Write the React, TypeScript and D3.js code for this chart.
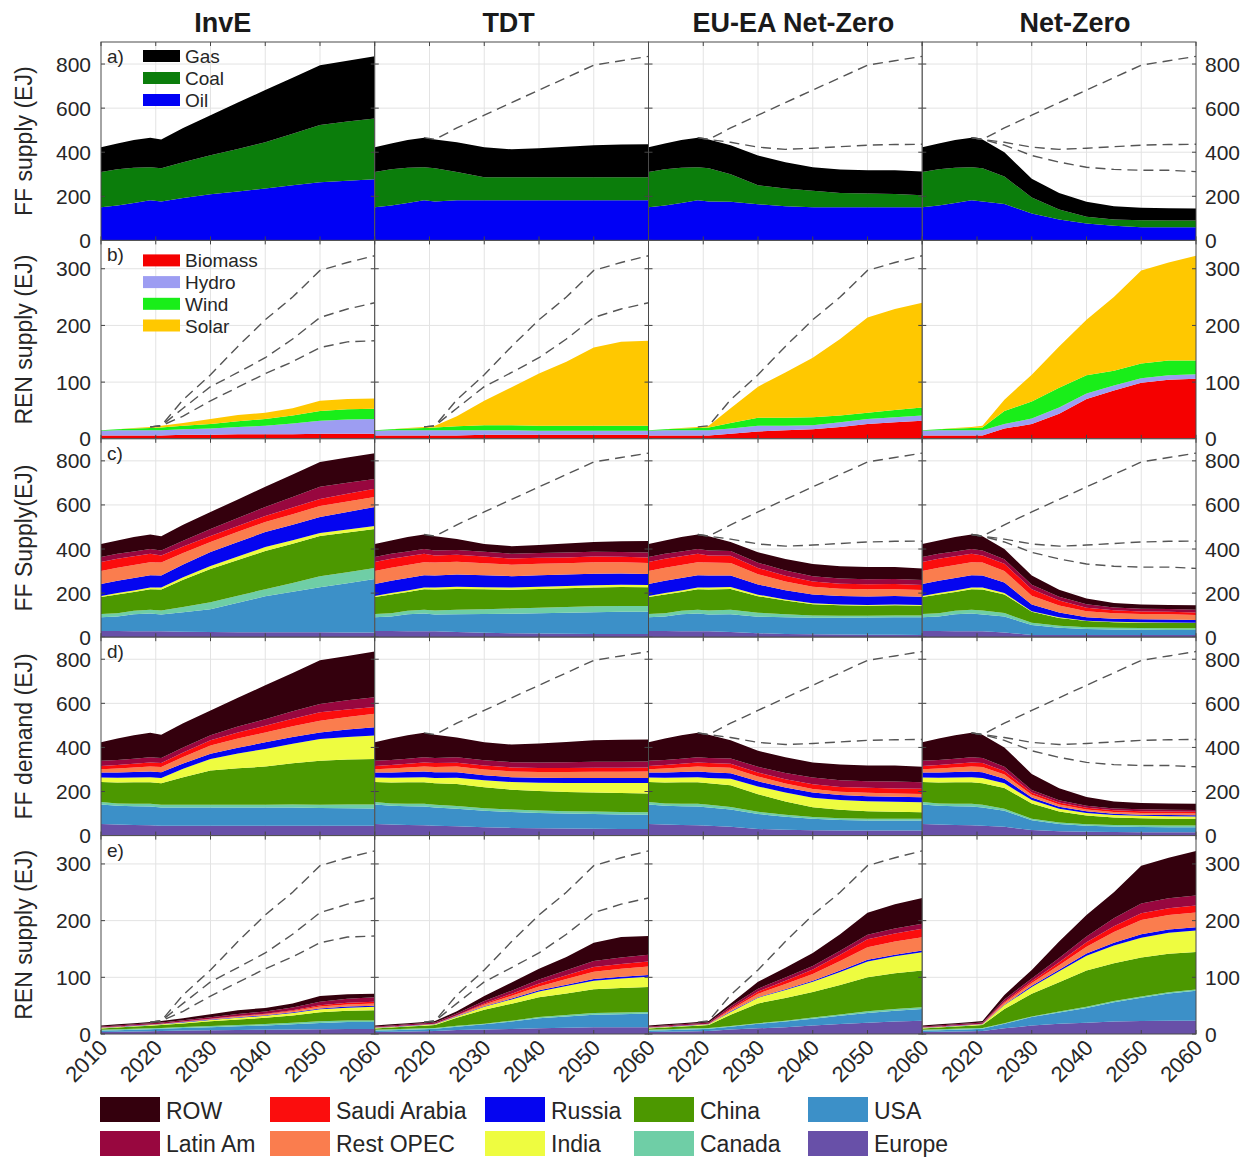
import React from "react";
import * as d3 from "d3";

// ---------------- DATA ----------------
const histYears = [2010, 2013, 2016, 2019, 2021];
const projYears = [2025, 2030, 2035, 2040, 2045, 2050, 2055, 2060];
const scenarioNames = ["InvE", "TDT", "EU-EA Net-Zero", "Net-Zero"];
const xTickYears = [2010, 2020, 2030, 2040, 2050, 2060];
const ffTicks = [0, 200, 400, 600, 800];
const renTicks = [0, 100, 200, 300];

// a) FF supply by fuel (stack bottom -> top: Oil, Coal, Gas)
const fuelNames = ["Oil", "Coal", "Gas"];
const fuelColors = ["#0000f5", "#0b7d0b", "#000000"];
const fuelHist = [[150, 158, 170, 182, 177], [160, 165, 160, 150, 150], [113, 117, 125, 134, 131]];
const fuelInvE = [[192, 209, 222, 236, 250, 264, 271, 277], [163, 177, 193, 209, 234, 259, 268, 276], [155, 182, 210, 237, 254, 272, 276, 282]];
const fuelTDT = [[182, 182, 182, 182, 182, 182, 182, 182], [128, 104, 104, 104, 104, 104, 104, 104], [135, 137, 127, 132, 139, 146, 149, 150]];
const fuelEUEA = [[175, 164, 155, 150, 150, 150, 150, 150], [125, 86, 80, 75, 65, 63, 60, 55], [132, 135, 120, 107, 107, 105, 108, 107]];
const fuelNZ = [[165, 122, 95, 77, 66, 60, 60, 60], [125, 73, 45, 30, 29, 31, 30, 30], [110, 85, 75, 68, 60, 57, 56, 55]];

// b) REN supply by source (stack bottom -> top: Biomass, Hydro, Wind, Solar)
const renNames = ["Biomass", "Hydro", "Wind", "Solar"];
const renColors = ["#f50000", "#9d9df2", "#19ee19", "#ffc800"];
const renHist = [[6, 6, 6, 6, 6], [8, 9, 9, 9, 9], [1, 2, 3, 4, 5], [0, 0, 1, 2, 3]];
const renInvE = [[7, 7, 8, 8, 8, 9, 9, 9], [10, 11, 13, 15, 19, 23, 25, 26], [6, 8, 10, 12, 14, 17, 18, 18], [5, 9, 11, 11, 13, 18, 18, 18]];
const renTDT = [[6, 7, 7, 7, 7, 7, 7, 7], [9, 8, 8, 7, 7, 7, 7, 7], [7, 9, 9, 9, 9, 9, 9, 9], [18, 43, 67, 92, 113, 138, 148, 150]];
const renEUEA = [[9, 13, 15, 17, 21, 26, 29, 32], [9, 10, 8, 7, 8, 9, 9, 9], [10, 14, 14, 14, 12, 11, 13, 14], [26, 55, 80, 105, 135, 168, 178, 185]];
const renNZ = [[18, 26, 44, 70, 85, 99, 104, 106], [8, 10, 11, 10, 9, 8, 8, 8], [23, 30, 35, 32, 26, 26, 26, 24], [20, 47, 73, 98, 130, 164, 173, 185]];

// regions (stack bottom -> top)
const regionNames = ["Europe", "USA", "Canada", "China", "India", "Russia", "Rest OPEC", "Saudi Arabia", "Latin Am", "ROW"];
const regionColors = ["#6850a8", "#3c90c8", "#6fcea6", "#4c9800", "#eefc40", "#0505f0", "#fa7d4e", "#fb0d0d", "#98073f", "#34000d"];

// c) FF supply by region
const supplyHist = [
  [28, 28, 27, 27, 27], [63, 66, 77, 80, 76], [14, 15, 16, 18, 18], [77, 85, 85, 92, 95], [5, 6, 7, 8, 9],
  [54, 56, 56, 56, 55], [59, 59, 59, 59, 59], [41, 41, 40, 38, 32], [23, 23, 22, 22, 22], [59, 60, 66, 66, 65],
];
const supplyInvE = [
  [25, 24, 23, 23, 22, 22, 21, 21], [88, 103, 133, 163, 184, 205, 224, 243], [24, 32, 32, 32, 40, 50, 50, 50],
  [124, 150, 162, 173, 178, 182, 180, 177], [11, 14, 16, 18, 16, 14, 14, 14], [58, 63, 66, 68, 70, 72, 79, 86],
  [52, 46, 46, 46, 48, 50, 48, 45], [29, 27, 27, 27, 30, 32, 35, 37], [27, 32, 36, 41, 48, 55, 50, 45],
  [72, 77, 84, 91, 102, 113, 114, 117],
];
const supplyTDT = [
  [24, 20, 18, 17, 16, 15, 15, 15], [80, 85, 88, 92, 95, 98, 100, 100], [20, 22, 24, 25, 26, 27, 27, 27],
  [95, 90, 85, 85, 85, 86, 86, 85], [10, 10, 10, 10, 10, 10, 10, 10], [55, 54, 52, 52, 52, 52, 51, 50],
  [58, 55, 52, 52, 52, 52, 51, 50], [32, 30, 28, 27, 26, 26, 25, 25], [22, 22, 22, 22, 22, 22, 22, 22],
  [49, 35, 34, 36, 41, 44, 48, 52],
];
const supplyEUEA = [
  [24, 18, 15, 13, 12, 11, 11, 10], [80, 75, 75, 75, 76, 78, 80, 80], [20, 18, 14, 10, 9, 8, 8, 8],
  [95, 75, 62, 52, 48, 46, 46, 45], [9, 7, 5, 4, 3, 3, 3, 3], [52, 46, 42, 40, 39, 39, 39, 38],
  [57, 47, 40, 35, 33, 32, 31, 30], [32, 28, 26, 24, 23, 23, 23, 23], [22, 24, 24, 24, 23, 23, 23, 23],
  [41, 47, 52, 55, 56, 55, 54, 52],
];
const supplyNZ = [
  [21, 10, 10, 10, 10, 10, 10, 10], [73, 45, 33, 27, 25, 24, 23, 23], [16, 10, 9, 8, 8, 8, 8, 8],
  [84, 50, 35, 28, 25, 24, 24, 23], [7, 3, 3, 2, 2, 2, 2, 2], [47, 30, 22, 16, 14, 13, 13, 12],
  [52, 40, 32, 27, 25, 24, 24, 23], [33, 30, 22, 16, 13, 12, 12, 11], [21, 20, 17, 15, 13, 12, 12, 12],
  [46, 42, 32, 26, 20, 19, 18, 21],
];

// d) FF demand by region
const demandHist = [
  [53, 50, 48, 47, 45], [88, 85, 85, 85, 83], [11, 11, 12, 12, 12], [91, 95, 97, 98, 98], [20, 21, 22, 23, 23],
  [23, 24, 25, 26, 26], [15, 18, 20, 23, 24], [15, 16, 17, 18, 18], [23, 23, 23, 23, 23], [84, 97, 106, 111, 106],
];
const demandInvE = [
  [45, 45, 45, 45, 45, 45, 45, 45], [83, 83, 83, 83, 82, 80, 79, 78], [12, 12, 12, 12, 14, 15, 17, 18],
  [125, 155, 165, 173, 187, 200, 204, 207], [38, 53, 67, 80, 89, 98, 102, 106], [24, 23, 27, 30, 30, 30, 34, 38],
  [30, 38, 42, 45, 49, 53, 57, 61], [20, 23, 27, 30, 34, 38, 34, 30], [23, 23, 27, 30, 34, 38, 42, 45],
  [110, 113, 130, 154, 174, 198, 201, 207],
];
const demandTDT = [
  [42, 38, 35, 33, 32, 31, 30, 30], [80, 75, 72, 70, 68, 67, 66, 65], [12, 11, 11, 11, 11, 11, 11, 11],
  [100, 95, 90, 88, 87, 86, 86, 85], [28, 32, 35, 38, 41, 44, 46, 48], [25, 23, 22, 22, 22, 22, 22, 22],
  [26, 26, 26, 27, 28, 29, 29, 30], [18, 18, 18, 18, 18, 18, 18, 18], [24, 24, 24, 25, 26, 27, 27, 27],
  [90, 81, 80, 86, 92, 97, 100, 100],
];
const demandEUEA = [
  [40, 30, 26, 24, 23, 23, 23, 23], [78, 68, 60, 52, 48, 46, 45, 45], [12, 10, 9, 8, 8, 8, 8, 8],
  [98, 80, 60, 45, 38, 34, 32, 30], [30, 35, 40, 43, 44, 45, 45, 45], [25, 23, 23, 23, 23, 23, 23, 23],
  [25, 22, 18, 16, 15, 15, 15, 15], [18, 18, 20, 22, 22, 23, 23, 23], [24, 26, 28, 30, 30, 30, 31, 30],
  [82, 73, 71, 69, 71, 71, 73, 70],
];
const demandNZ = [
  [40, 25, 20, 17, 16, 15, 15, 15], [73, 45, 33, 28, 25, 24, 23, 23], [9, 6, 6, 6, 7, 8, 8, 8],
  [94, 70, 50, 40, 34, 32, 31, 30], [21, 15, 13, 12, 11, 11, 11, 11], [21, 12, 9, 7, 6, 5, 5, 5],
  [19, 12, 10, 8, 8, 8, 8, 8], [16, 10, 9, 8, 8, 8, 8, 8], [19, 12, 10, 9, 8, 8, 8, 8],
  [88, 73, 55, 40, 32, 29, 29, 29],
];

// e) REN supply by region
const renRegHist = [
  [3.5, 4, 4.5, 5, 5.3], [2.5, 2.8, 3.1, 3.5, 3.8], [1.4, 1.4, 1.5, 1.5, 1.5], [2.5, 3.2, 4, 4.6, 5.2], [1, 1.1, 1.2, 1.3, 1.4],
  [0.5, 0.5, 0.5, 0.5, 0.5], [0.3, 0.3, 0.4, 0.4, 0.4], [0.1, 0.1, 0.1, 0.1, 0.1], [1.6, 1.7, 1.8, 1.9, 2], [1.6, 1.9, 1.9, 2.2, 2.8],
];
const renRegInvE = [
  [6, 6.5, 7, 7.5, 8, 8.5, 9, 9], [4.5, 5.5, 6.5, 7.5, 9, 11, 12, 12], [1.7, 2, 2.2, 2.5, 2.7, 3, 3, 3],
  [6.5, 8.5, 10, 11, 13, 16, 17, 18], [1.8, 2.3, 3, 3.5, 4.2, 5, 5.5, 6], [0.6, 0.8, 1, 1.2, 1.4, 1.7, 2, 2],
  [0.6, 0.9, 1.3, 1.7, 2.3, 3.2, 3.7, 4], [0.2, 0.4, 0.7, 1, 1.5, 2.3, 2.8, 3], [2.3, 2.8, 3.5, 4, 4.8, 6.3, 7, 8],
  [3.8, 5.3, 6.8, 6.1, 7.1, 10, 8, 6],
];
const renRegTDT = [
  [7, 8, 9, 10, 11, 12, 12, 12], [6, 9, 13, 18, 20, 22, 23, 24], [1.5, 1, 1.5, 2, 2.5, 3, 3, 3],
  [14, 25, 30, 35, 38, 42, 43, 44], [2.5, 5, 7.5, 10, 13, 15, 17, 18], [0.6, 1, 1.5, 2, 2.5, 3, 3, 3],
  [1, 3, 5, 7, 10, 13, 14, 15], [0.4, 2, 3.5, 5, 6.5, 8, 8.5, 9], [3, 4, 5.5, 7, 9, 11, 11.5, 12],
  [4, 9, 14.5, 19, 23.5, 32, 36, 33],
];
const renRegEUEA = [
  [8, 10, 12, 15, 17.5, 20, 22, 23.5], [5, 8, 10, 12, 14.5, 17, 19, 20.6], [1, 1, 1.5, 2, 2.5, 3, 3, 3],
  [20, 35, 40, 45, 52, 60, 63, 65], [5, 10, 14, 18, 23, 28, 30, 32], [1, 1, 1.5, 2, 2.5, 3, 3, 3],
  [3, 6, 9, 12, 17, 22, 23, 23.5], [2, 4, 6, 8, 11, 14, 14.5, 15], [4, 5, 5.5, 6, 7, 8, 8.5, 9],
  [5, 12, 17.5, 23, 29, 39, 43, 45.4],
];
const renRegNZ = [
  [10, 15, 18, 20, 22, 23, 23.5, 23.5], [8, 15, 20, 26, 34, 41, 48, 53], [1, 1, 1.5, 2, 2, 2, 2, 2],
  [25, 40, 52, 64, 67, 69, 68, 66], [7, 12, 19, 26, 31, 35, 37, 38], [1, 2, 3, 4, 5, 6, 6, 6],
  [3, 5, 8, 12, 19, 25, 25.5, 26], [2, 3, 5, 8, 10, 12, 12, 12], [4, 5, 7.5, 10, 14, 17, 17.5, 18],
  [8, 15, 29, 38, 46, 67, 71.5, 78.5],
];

// ---------------- LAYOUT ----------------
const W = 1250, H = 1158;
const L = 101, R = 1196, T = 42, B = 1034;
const colW = (R - L) / 4;
const rowH = (B - T) / 5;
const FONT = "'Liberation Sans', Arial, Helvetica, sans-serif";
const TXT = "#262626";
const titleDx = [-15, -3, 8, 16];
const legendX = [100, 270, 485, 634, 808];

const years = histYears.concat(projYears);
const join = (hist: number[][], proj: number[][]) => hist.map((h, i) => h.concat(proj[i]));

const fuelData = [fuelInvE, fuelTDT, fuelEUEA, fuelNZ].map((p) => join(fuelHist, p));
const renData = [renInvE, renTDT, renEUEA, renNZ].map((p) => join(renHist, p));
const supplyData = [supplyInvE, supplyTDT, supplyEUEA, supplyNZ].map((p) => join(supplyHist, p));
const demandData = [demandInvE, demandTDT, demandEUEA, demandNZ].map((p) => join(demandHist, p));
const renRegData = [renRegInvE, renRegTDT, renRegEUEA, renRegNZ].map((p) => join(renRegHist, p));

const totals = (layers: number[][]) => years.map((_, j) => d3.sum(layers, (l) => l[j]));
const ffTotals = fuelData.map(totals);
const renTotals = renData.map(totals);

const rows = [
  { label: "FF supply (EJ)", letter: "a)", max: 900, ticks: ffTicks, data: fuelData, colors: fuelColors, tot: ffTotals },
  { label: "REN supply (EJ)", letter: "b)", max: 350, ticks: renTicks, data: renData, colors: renColors, tot: renTotals },
  { label: "FF Supply(EJ)", letter: "c)", max: 900, ticks: ffTicks, data: supplyData, colors: regionColors, tot: ffTotals },
  { label: "FF demand (EJ)", letter: "d)", max: 900, ticks: ffTicks, data: demandData, colors: regionColors, tot: ffTotals },
  { label: "REN supply (EJ)", letter: "e)", max: 350, ticks: renTicks, data: renRegData, colors: regionColors, tot: renTotals },
];

const legendCols = [["ROW", "Latin Am"], ["Saudi Arabia", "Rest OPEC"], ["Russia", "India"], ["China", "Canada"], ["USA", "Europe"]];

function Panel({ r, c }: { r: number; c: number }) {
  const row = rows[r];
  const x0 = L + c * colW;
  const y0 = T + r * rowH;
  const x = d3.scaleLinear().domain([2010, 2060]).range([x0, x0 + colW]);
  const y = d3.scaleLinear().domain([0, row.max]).range([y0 + rowH, y0]);
  const layers = row.data[c];
  const table = years.map((yr, j) => {
    const o: any = { year: yr };
    layers.forEach((l, i) => (o["k" + i] = l[j]));
    return o;
  });
  const series = d3.stack().keys(layers.map((_, i) => "k" + i))(table);
  const area = d3
    .area<any>()
    .x((d) => x(d.data.year))
    .y0((d) => y(d[0]))
    .y1((d) => y(d[1]));
  const line = d3
    .line<[number, number]>()
    .x((d) => x(d[0]))
    .y((d) => y(d[1]));
  const own = row.tot[c][years.length - 1];
  const others = row.tot
    .map((t, k) => ({ t, k }))
    .filter((o) => o.k !== c && o.t[years.length - 1] > own + 1);
  const clipId = `clip-${r}-${c}`;
  const gridX = xTickYears.slice(1, -1);
  const gridY = row.ticks.filter((t) => t > 0);
  return (
    <g>
      <defs>
        <clipPath id={clipId}>
          <rect x={x0} y={y0} width={colW} height={rowH} />
        </clipPath>
      </defs>
      <rect x={x0} y={y0} width={colW} height={rowH} fill="#fff" />
      {gridX.map((g) => (
        <line key={"gx" + g} x1={x(g)} x2={x(g)} y1={y0} y2={y0 + rowH} stroke="#e3e3e3" strokeWidth={1} />
      ))}
      {gridY.map((g) => (
        <line key={"gy" + g} x1={x0} x2={x0 + colW} y1={y(g)} y2={y(g)} stroke="#e3e3e3" strokeWidth={1} />
      ))}
      <g clipPath={`url(#${clipId})`}>
        {series.map((s, i) => (
          <path key={i} d={area(s as any) || ""} fill={row.colors[i]} />
        ))}
        {others.map((o) => (
          <path
            key={"d" + o.k}
            d={line(years.map((yr, j) => [yr, o.t[j]] as [number, number]).filter((p) => p[0] >= 2019)) || ""}
            fill="none"
            stroke="#555"
            strokeWidth={1.4}
            strokeDasharray="10 6"
          />
        ))}
      </g>
      {row.ticks.map((t) => (
        <g key={"t" + t}>
          <line x1={x0} x2={x0 + 4} y1={y(t)} y2={y(t)} stroke="#444" />
          <line x1={x0 + colW - 4} x2={x0 + colW} y1={y(t)} y2={y(t)} stroke="#444" />
        </g>
      ))}
      {xTickYears.map((t) => (
        <g key={"xt" + t}>
          <line x1={x(t)} x2={x(t)} y1={y0} y2={y0 + 4} stroke="#444" />
          <line x1={x(t)} x2={x(t)} y1={y0 + rowH - 4} y2={y0 + rowH} stroke="#444" />
        </g>
      ))}
      <rect x={x0} y={y0} width={colW} height={rowH} fill="none" stroke="#4a4a4a" strokeWidth={1} />
      {c === 0 &&
        row.ticks.map((t) => (
          <text key={"yl" + t} x={x0 - 10} y={y(t) + 7.5} textAnchor="end" fontSize={21} fill={TXT} fontFamily={FONT}>
            {t}
          </text>
        ))}
      {c === 3 &&
        row.ticks.map((t) => (
          <text key={"yr" + t} x={x0 + colW + 9} y={y(t) + 7.5} textAnchor="start" fontSize={21} fill={TXT} fontFamily={FONT}>
            {t}
          </text>
        ))}
      {c === 0 && (
        <text x={x0 + 6} y={y0 + 21} fontSize={19} fill={TXT} fontFamily={FONT}>
          {row.letter}
        </text>
      )}
      {r === 4 &&
        xTickYears
          .filter((t) => c === 0 || t > 2010)
          .map((t) => (
            <text
              key={"xl" + t}
              transform={`translate(${x(t) + 8},${y0 + rowH + 15}) rotate(-45)`}
              textAnchor="end"
              fontSize={22}
              fill={TXT}
              fontFamily={FONT}
            >
              {t}
            </text>
          ))}
    </g>
  );
}

export default function App() {
  const panels: JSX.Element[] = [];
  for (let r = 0; r < 5; r++) for (let c = 0; c < 4; c++) panels.push(<Panel key={`${r}-${c}`} r={r} c={c} />);
  const fuelLegend = ["Gas", "Coal", "Oil"];
  return (
    <svg width={W} height={H} style={{ position: "absolute", left: 0, top: 0, background: "#fff" }}>
      <rect x={0} y={0} width={W} height={H} fill="#fff" />
      {panels}
      {scenarioNames.map((s, c) => (
        <text
          key={s}
          x={L + c * colW + colW / 2 + titleDx[c]}
          y={32}
          textAnchor="middle"
          fontSize={27}
          fontWeight="bold"
          fill="#1a1a1a"
          fontFamily={FONT}
        >
          {s}
        </text>
      ))}
      {rows.map((row, r) => (
        <text
          key={"lab" + r}
          transform={`translate(32,${T + r * rowH + rowH / 2}) rotate(-90)`}
          textAnchor="middle"
          fontSize={23}
          fill={TXT}
          fontFamily={FONT}
        >
          {row.label}
        </text>
      ))}
      {/* row a legend */}
      {fuelLegend.map((n, i) => {
        const cy = T + 14 + i * 22;
        return (
          <g key={n}>
            <rect x={143} y={cy - 6} width={37} height={12} fill={fuelColors[fuelNames.indexOf(n)]} />
            <text x={185} y={cy + 7} fontSize={19} fill={TXT} fontFamily={FONT}>
              {n}
            </text>
          </g>
        );
      })}
      {/* row b legend */}
      {renNames.map((n, i) => {
        const cy = T + rowH + 20 + i * 21.7;
        return (
          <g key={n}>
            <rect x={143} y={cy - 6} width={37} height={12} fill={renColors[i]} />
            <text x={185} y={cy + 7} fontSize={19} fill={TXT} fontFamily={FONT}>
              {n}
            </text>
          </g>
        );
      })}
      {/* bottom legend */}
      {legendCols.map((col, ci) =>
        col.map((n, ri) => (
          <g key={n}>
            <rect x={legendX[ci]} y={1097 + ri * 34} width={60} height={25} fill={regionColors[regionNames.indexOf(n)]} />
            <text x={legendX[ci] + 66} y={1119 + ri * 33} fontSize={23} fill={TXT} fontFamily={FONT}>
              {n}
            </text>
          </g>
        ))
      )}
    </svg>
  );
}
